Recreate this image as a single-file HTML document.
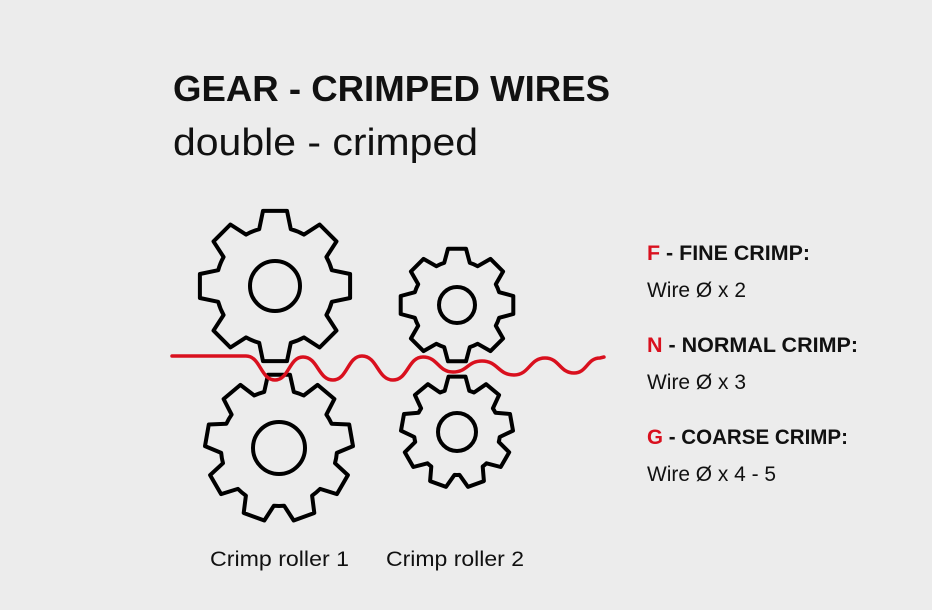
<!DOCTYPE html>
<html><head><meta charset="utf-8"><style>
html,body{margin:0;padding:0;background:#ececec;}
svg{display:block}
text{font-family:"Liberation Sans",sans-serif;}
</style></head><body>
<svg id="s" width="932" height="610" viewBox="0 0 932 610" xmlns="http://www.w3.org/2000/svg">
<rect width="932" height="610" fill="#ececec"/>
<text x="173" y="101" font-size="36" font-weight="bold" fill="#111" textLength="437" lengthAdjust="spacingAndGlyphs">GEAR - CRIMPED WIRES</text>
<text x="173" y="155" font-size="38" fill="#111" textLength="305" lengthAdjust="spacingAndGlyphs">double - crimped</text>
<g id="gears" fill="none" stroke="#000" stroke-width="4" stroke-linejoin="round"></g>
<path id="wire" fill="none" stroke="#d9101e" stroke-width="3.5" stroke-linecap="round"/>
<text x="210" y="566" font-size="21" fill="#111" textLength="139" lengthAdjust="spacingAndGlyphs">Crimp roller 1</text>
<text x="386" y="566" font-size="21" fill="#111" textLength="138" lengthAdjust="spacingAndGlyphs">Crimp roller 2</text>
<g font-size="21">
<text x="647" y="260" font-weight="bold" fill="#111" textLength="163" lengthAdjust="spacingAndGlyphs"><tspan fill="#d9101e">F</tspan> - FINE CRIMP:</text>
<text x="647" y="297" fill="#111" textLength="99" lengthAdjust="spacingAndGlyphs">Wire Ø x 2</text>
<text x="647" y="352" font-weight="bold" fill="#111" textLength="211" lengthAdjust="spacingAndGlyphs"><tspan fill="#d9101e">N</tspan> - NORMAL CRIMP:</text>
<text x="647" y="389" fill="#111" textLength="99" lengthAdjust="spacingAndGlyphs">Wire Ø x 3</text>
<text x="647" y="444" font-weight="bold" fill="#111" textLength="201" lengthAdjust="spacingAndGlyphs"><tspan fill="#d9101e">G</tspan> - COARSE CRIMP:</text>
<text x="647" y="481" fill="#111" textLength="129" lengthAdjust="spacingAndGlyphs">Wire Ø x 4 - 5</text>
</g>
</svg>
<script>
function gear(cx,cy,r2,r1,n,rot,tw,hub){
  var d="",step=2*Math.PI/n,ht=tw/2/r2,hb=(tw/2+4)/r1;
  for(var i=0;i<n;i++){
    var a=-Math.PI/2+rot*Math.PI/180+i*step;
    var pts=[[r1,a-hb],[r2,a-ht],[r2,a+ht],[r1,a+hb]];
    pts.forEach(function(p,j){
      var x=cx+p[0]*Math.cos(p[1]),y=cy+p[0]*Math.sin(p[1]);
      d+=(i==0&&j==0?"M":"L")+x.toFixed(1)+","+y.toFixed(1)+" ";
    });
    var na=a+step-hb;
    d+="A"+r1+","+r1+" 0 0 1 "+(cx+r1*Math.cos(na)).toFixed(1)+","+(cy+r1*Math.sin(na)).toFixed(1)+" ";
  }
  d+="Z";
  var g=document.getElementById("gears");
  g.innerHTML+='<path d="'+d+'"/><circle cx="'+cx+'" cy="'+cy+'" r="'+hub+'"/>';
}
gear(275,286,76,59,8,0,24,25);
gear(279,448,74,58,9,0,22,26);
gear(457,305,57,44,8,0,18,18);
gear(457,432,56,43,9,0,17,19);
var d="M172,356 L246,356";
function seg(x0,x1,y0,y1){return " C"+(x0+(x1-x0)/2)+","+y0+" "+(x0+(x1-x0)/2)+","+y1+" "+x1+","+y1;}
var pts=[[246,356],[275,380],[303,357],[333,380],[362,356],[393,380],[423,357],[453,372],[482,361],[514,375],[545,358],[574,373],[600,358]];
for(var i=1;i<pts.length;i++){d+=seg(pts[i-1][0],pts[i][0],pts[i-1][1],pts[i][1]);}
d+=" L604,357";
document.getElementById("wire").setAttribute("d",d);
</script>
</body></html>
